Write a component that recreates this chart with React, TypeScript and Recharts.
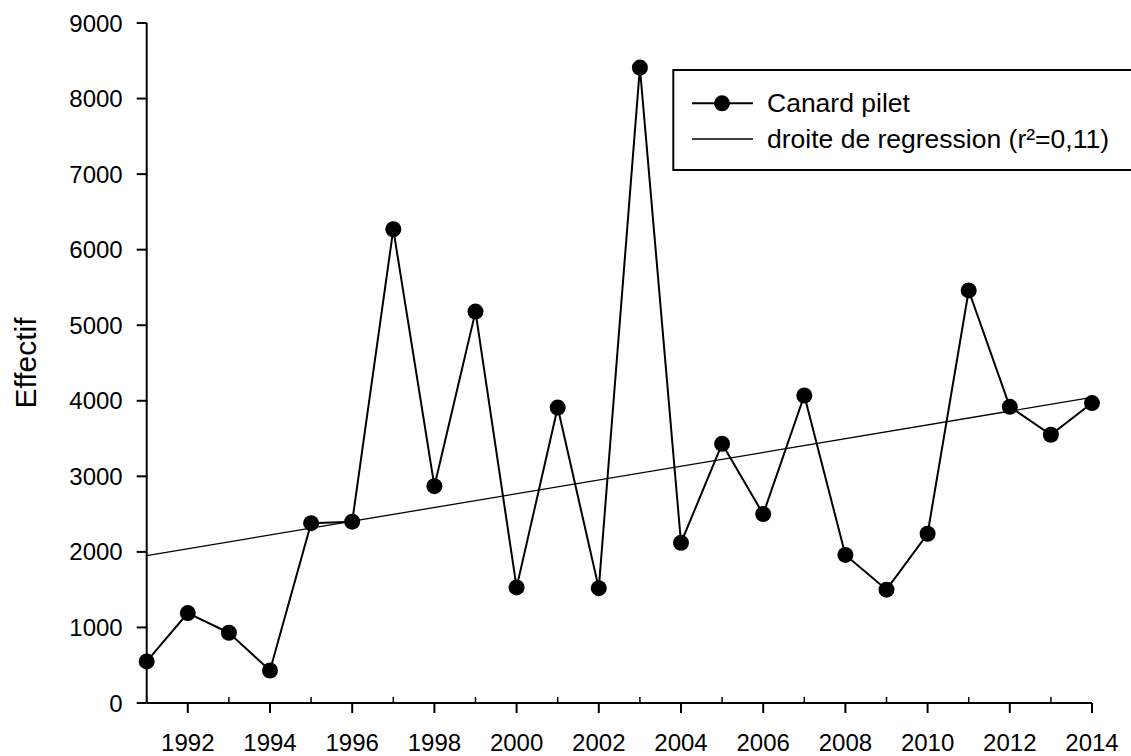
import React from 'react';
import { LineChart, Line, XAxis, YAxis } from 'recharts';

// comptages annuels
const years = [1991, 1992, 1993, 1994, 1995, 1996, 1997, 1998, 1999, 2000, 2001, 2002,
  2003, 2004, 2005, 2006, 2007, 2008, 2009, 2010, 2011, 2012, 2013, 2014];
const effectif = [550, 1190, 930, 430, 2380, 2400, 6270, 2870, 5180, 1530, 3910, 1520,
  8410, 2120, 3430, 2500, 4070, 1960, 1500, 2240, 5460, 3920, 3550, 3970];

// droite de regression (extremites)
const regYears = [1991, 2014];
const regValues = [1950, 4045];

const yTicks = [0, 1000, 2000, 3000, 4000, 5000, 6000, 7000, 8000, 9000];

const data = years.map((year, i) => ({ year, effectif: effectif[i] }));
const regData = regYears.map((year, i) => ({ year, fit: regValues[i] }));

const FONT = '"Liberation Sans", Arial, Helvetica, sans-serif';

const BottomTick = (props: any) => {
  const { x, y, payload } = props;
  const yr = payload.value;
  if (yr % 2 === 1) {
    return <line x1={x} x2={x} y1={y} y2={y - 6} stroke="#000" strokeWidth={1.5} />;
  }
  return (
    <g>
      <line x1={x} x2={x} y1={y} y2={y + 10} stroke="#000" strokeWidth={2} />
      <text x={x} y={y + 48} textAnchor="middle" fontSize={24} fontFamily={FONT} fill="#000">
        {yr}
      </text>
    </g>
  );
};

const TopTick = (props: any) => {
  const { x, y, payload } = props;
  if (payload.value % 2 === 1 && payload.value !== 1991) {
    return <line x1={x} x2={x} y1={y} y2={y + 6} stroke="#000" strokeWidth={1.5} />;
  }
  return <g />;
};

export default function App() {
  return (
    <div style={{ position: 'absolute', left: 0, top: 0, width: 1131, height: 756, overflow: 'hidden', background: '#fff' }}>
      <LineChart width={1131} height={756} data={data} margin={{ top: 23, right: 39, bottom: 8, left: 10 }}>
        <XAxis
          xAxisId="bottom"
          dataKey="year"
          type="number"
          domain={[1991, 2014]}
          ticks={years}
          interval={0}
          height={45}
          tickLine={false}
          tickSize={0}
          tickMargin={0}
          axisLine={{ stroke: '#000', strokeWidth: 2 }}
          tick={<BottomTick />}
        />
        <XAxis
          xAxisId="top"
          orientation="top"
          dataKey="year"
          type="number"
          domain={[1991, 2014]}
          ticks={years}
          interval={0}
          height={0}
          tickLine={false}
          tickSize={0}
          tickMargin={0}
          axisLine={{ stroke: '#000', strokeWidth: 2 }}
          tick={<TopTick />}
        />
        <YAxis
          yAxisId="left"
          type="number"
          domain={[0, 9000]}
          ticks={yTicks}
          interval={0}
          width={136.7}
          tickSize={10}
          tickMargin={14}
          axisLine={{ stroke: '#000', strokeWidth: 2 }}
          tickLine={{ stroke: '#000', strokeWidth: 2 }}
          tick={{ fill: '#000', fontSize: 24, fontFamily: FONT }}
          label={{
            value: 'Effectif',
            angle: -90,
            position: 'insideLeft',
            offset: 15,
            style: { textAnchor: 'middle', fill: '#000', fontSize: 30, fontFamily: FONT },
          }}
        />
        <YAxis
          yAxisId="right"
          orientation="right"
          type="number"
          domain={[0, 9000]}
          width={0}
          tick={false}
          tickLine={false}
          axisLine={{ stroke: '#000', strokeWidth: 2 }}
        />
        <Line
          xAxisId="bottom"
          yAxisId="left"
          data={regData}
          dataKey="fit"
          type="linear"
          stroke="#000"
          strokeWidth={1.3}
          dot={false}
          isAnimationActive={false}
        />
        <Line
          xAxisId="bottom"
          yAxisId="left"
          dataKey="effectif"
          type="linear"
          stroke="#000"
          strokeWidth={2}
          dot={{ r: 8, fill: '#000', stroke: '#000', strokeWidth: 0 }}
          isAnimationActive={false}
        />
      </LineChart>
      <svg
        width={470}
        height={104}
        style={{ position: 'absolute', left: 672, top: 68, overflow: 'visible' }}
      >
        <rect x={1.3} y={2} width={470} height={100} fill="#fff" stroke="#000" strokeWidth={2} />
        <line x1={20} x2={81} y1={35.3} y2={35.3} stroke="#000" strokeWidth={2} />
        <circle cx={50} cy={35.3} r={8} fill="#000" />
        <text x={95} y={44} fontSize={26.5} fontFamily={FONT} fill="#000">Canard pilet</text>
        <line x1={20} x2={81} y1={71} y2={71} stroke="#000" strokeWidth={1.3} />
        <text x={95} y={80} fontSize={26.5} fontFamily={FONT} fill="#000">droite de regression (r²=0,11)</text>
      </svg>
    </div>
  );
}
